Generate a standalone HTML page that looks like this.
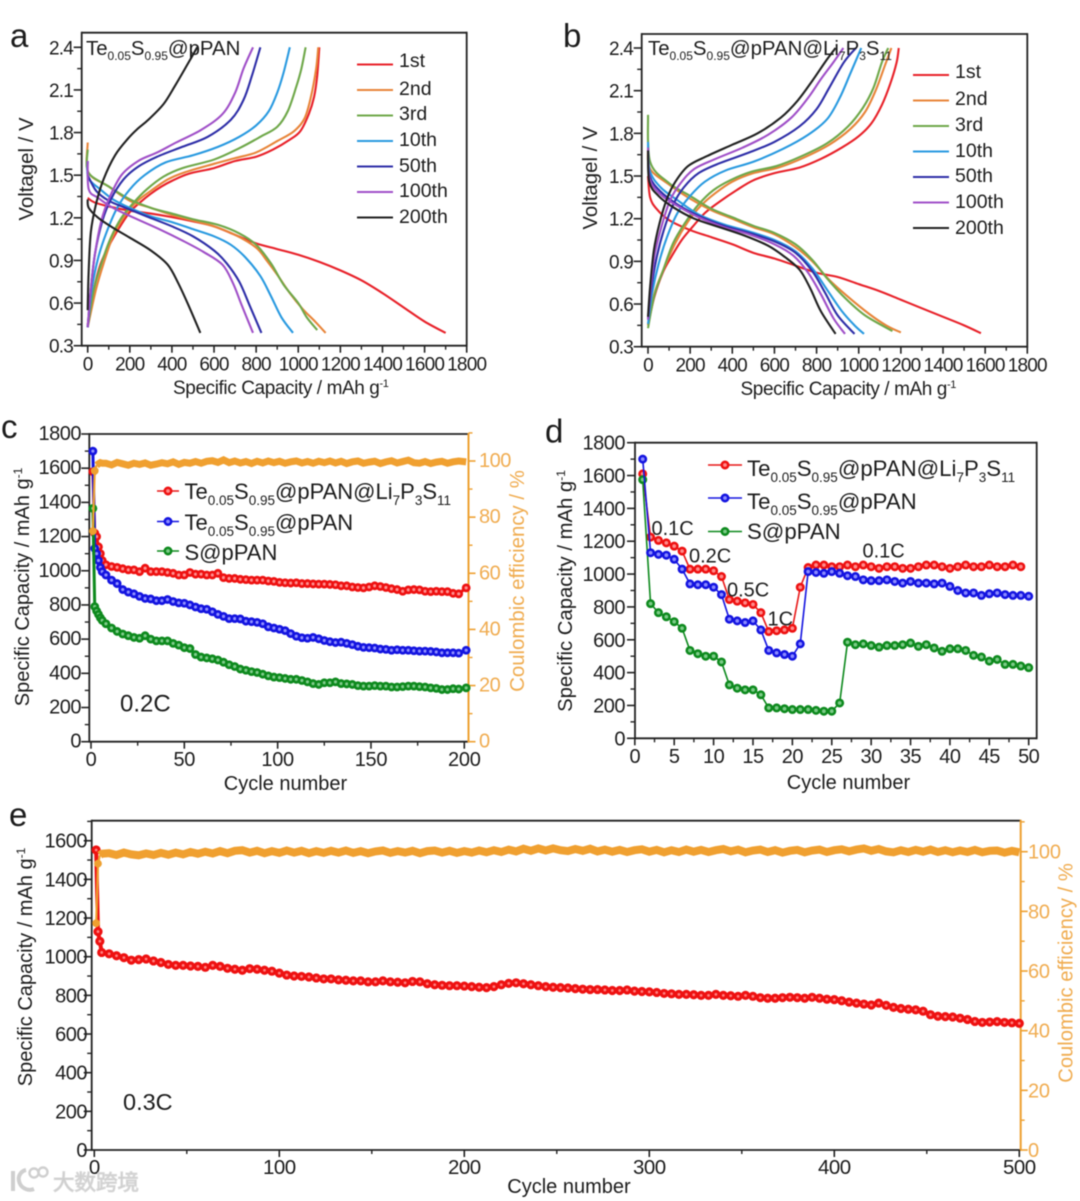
<!DOCTYPE html>
<html lang="en">
<head>
<meta charset="utf-8">
<title>Te0.05S0.95@pPAN battery performance</title>
<style>
html,body{margin:0;padding:0;background:#fff;}
svg{display:block;font-family:"Liberation Sans","Noto Sans CJK SC",sans-serif;fill:#1c1c1c;filter:blur(.45px);}
.letter{font-size:33px;}
.title{font-size:20.4px;}
.leg{font-size:19.5px;}
.orange{fill:#f0ac50;}
</style>
</head>
<body>
<svg id="figure" width="1080" height="1201" viewBox="0 0 1080 1201">
<rect width="1080" height="1201" fill="#fff"/>

<!-- Panel a -->
<g id="panel-a">
  <g id="marks-a"></g>
  <text class="letter" x="10" y="47">a</text>
  <text class="title" x="86" y="55">Te<tspan dy="5" font-size="12">0.05</tspan><tspan dy="-5">S</tspan><tspan dy="5" font-size="12">0.95</tspan><tspan dy="-5">@pPAN</tspan></text>
  <text class="title" transform="translate(33,169) rotate(-90)" text-anchor="middle">Voltagel / V</text>
  <text class="title" x="173" y="394" style="font-size:19px;letter-spacing:-.4px">Specific Capacity / mAh g<tspan dy="-7" font-size="11">-1</tspan></text>
  <g>
    <line x1="357" x2="393" y1="64.5" y2="64.5" stroke="#e8222a" stroke-width="2"/>
    <text class="leg" x="399" y="67">1st</text>
    <line x1="357" x2="393" y1="90" y2="90" stroke="#e8853a" stroke-width="2"/>
    <text class="leg" x="399" y="95">2nd</text>
    <line x1="357" x2="393" y1="115.5" y2="115.5" stroke="#6fa84a" stroke-width="2"/>
    <text class="leg" x="399" y="120">3rd</text>
    <line x1="357" x2="393" y1="141" y2="141" stroke="#2a9ae0" stroke-width="2"/>
    <text class="leg" x="399" y="146">10th</text>
    <line x1="357" x2="393" y1="166.5" y2="166.5" stroke="#2f2fa8" stroke-width="2"/>
    <text class="leg" x="399" y="172">50th</text>
    <line x1="357" x2="393" y1="192" y2="192" stroke="#a050c8" stroke-width="2"/>
    <text class="leg" x="399" y="197">100th</text>
    <line x1="357" x2="393" y1="217.5" y2="217.5" stroke="#222" stroke-width="2"/>
    <text class="leg" x="399" y="223">200th</text>
  </g>
</g>

<!-- Panel b -->
<g id="panel-b">
  <g id="marks-b"></g>
  <text class="letter" x="563" y="47">b</text>
  <text class="title" x="648" y="55">Te<tspan dy="5" font-size="12">0.05</tspan><tspan dy="-5">S</tspan><tspan dy="5" font-size="12">0.95</tspan><tspan dy="-5">@pPAN@Li</tspan><tspan dy="5" font-size="12">7</tspan><tspan dy="-5">P</tspan><tspan dy="5" font-size="12">3</tspan><tspan dy="-5">S</tspan><tspan dy="5" font-size="12">11</tspan></text>
  <text class="title" transform="translate(597,178) rotate(-90)" text-anchor="middle">Voltagel / V</text>
  <text class="title" x="740.5" y="395" style="font-size:19px;letter-spacing:-.4px">Specific Capacity / mAh g<tspan dy="-7" font-size="11">-1</tspan></text>
  <g>
    <line x1="913" x2="949" y1="75" y2="75" stroke="#e8222a" stroke-width="2"/>
    <text class="leg" x="955" y="78">1st</text>
    <line x1="913" x2="949" y1="100.5" y2="100.5" stroke="#e8853a" stroke-width="2"/>
    <text class="leg" x="955" y="105">2nd</text>
    <line x1="913" x2="949" y1="126" y2="126" stroke="#6fa84a" stroke-width="2"/>
    <text class="leg" x="955" y="131">3rd</text>
    <line x1="913" x2="949" y1="151.5" y2="151.5" stroke="#2a9ae0" stroke-width="2"/>
    <text class="leg" x="955" y="157">10th</text>
    <line x1="913" x2="949" y1="177" y2="177" stroke="#2f2fa8" stroke-width="2"/>
    <text class="leg" x="955" y="182">50th</text>
    <line x1="913" x2="949" y1="202.5" y2="202.5" stroke="#a050c8" stroke-width="2"/>
    <text class="leg" x="955" y="208">100th</text>
    <line x1="913" x2="949" y1="228" y2="228" stroke="#222" stroke-width="2"/>
    <text class="leg" x="955" y="234">200th</text>
  </g>
</g>

<!-- Panel c -->
<g id="panel-c">
  <g id="marks-c"></g>
  <text class="letter" x="1" y="438">c</text>
  <text transform="translate(29,587) rotate(-90)" text-anchor="middle" font-size="20">Specific Capacity / mAh g<tspan dy="-7" font-size="12">-1</tspan></text>
  <text class="orange" transform="translate(524,581) rotate(-90)" text-anchor="middle" font-size="20.4">Coulombic efficiency / %</text>
  <text x="285.5" y="790" text-anchor="middle" font-size="20">Cycle number</text>
  <text x="120" y="711.5" font-size="24">0.2C</text>
  <g font-size="22">
    <line x1="157" x2="179" y1="491" y2="491" stroke="#e81818" stroke-width="1.6"/>
    <circle cx="168" cy="491" r="3.2" fill="#ff8a8a" stroke="#ee1111" stroke-width="2.6"/>
    <text x="184.5" y="499">Te<tspan dy="6" font-size="13.5">0.05</tspan><tspan dy="-6">S</tspan><tspan dy="6" font-size="13.5">0.95</tspan><tspan dy="-6">@pPAN@Li</tspan><tspan dy="6" font-size="13.5">7</tspan><tspan dy="-6">P</tspan><tspan dy="6" font-size="13.5">3</tspan><tspan dy="-6">S</tspan><tspan dy="6" font-size="13.5">11</tspan></text>
    <line x1="157" x2="179" y1="521.5" y2="521.5" stroke="#1414e0" stroke-width="1.6"/>
    <circle cx="168" cy="521.5" r="3.2" fill="#8a8aff" stroke="#1414e0" stroke-width="2.6"/>
    <text x="184.5" y="530">Te<tspan dy="6" font-size="13.5">0.05</tspan><tspan dy="-6">S</tspan><tspan dy="6" font-size="13.5">0.95</tspan><tspan dy="-6">@pPAN</tspan></text>
    <line x1="157" x2="179" y1="551" y2="551" stroke="#0e8a1e" stroke-width="1.6"/>
    <circle cx="168" cy="551" r="3.2" fill="#7ccb88" stroke="#0e8a1e" stroke-width="2.6"/>
    <text x="184.5" y="560">S@pPAN</text>
  </g>
</g>

<!-- Panel d -->
<g id="panel-d">
  <g id="marks-d"></g>
  <text class="letter" x="545" y="442.5">d</text>
  <text transform="translate(572,591) rotate(-90)" text-anchor="middle" font-size="20.3">Specific Capacity / mAh g<tspan dy="-7" font-size="12">-1</tspan></text>
  <text x="848.5" y="789" text-anchor="middle" font-size="20">Cycle number</text>
  <g font-size="20">
    <text x="651.5" y="535">0.1C</text>
    <text x="689" y="562.5">0.2C</text>
    <text x="727" y="596.5">0.5C</text>
    <text x="767.5" y="625.5">1C</text>
    <text x="862.5" y="557.5">0.1C</text>
  </g>
  <g font-size="22.2">
    <line x1="708" x2="742" y1="465" y2="465" stroke="#e81818" stroke-width="1.6"/>
    <circle cx="725" cy="465" r="3.2" fill="#ff8a8a" stroke="#ee1111" stroke-width="2.6"/>
    <text x="747" y="476">Te<tspan dy="6" font-size="13.5">0.05</tspan><tspan dy="-6">S</tspan><tspan dy="6" font-size="13.5">0.95</tspan><tspan dy="-6">@pPAN@Li</tspan><tspan dy="6" font-size="13.5">7</tspan><tspan dy="-6">P</tspan><tspan dy="6" font-size="13.5">3</tspan><tspan dy="-6">S</tspan><tspan dy="6" font-size="13.5">11</tspan></text>
    <line x1="708" x2="742" y1="498" y2="498" stroke="#1414e0" stroke-width="1.6"/>
    <circle cx="725" cy="498" r="3.2" fill="#8a8aff" stroke="#1414e0" stroke-width="2.6"/>
    <text x="747" y="509">Te<tspan dy="6" font-size="13.5">0.05</tspan><tspan dy="-6">S</tspan><tspan dy="6" font-size="13.5">0.95</tspan><tspan dy="-6">@pPAN</tspan></text>
    <line x1="708" x2="742" y1="531.5" y2="531.5" stroke="#0e8a1e" stroke-width="1.6"/>
    <circle cx="725" cy="531.5" r="3.2" fill="#7ccb88" stroke="#0e8a1e" stroke-width="2.6"/>
    <text x="747" y="539">S@pPAN</text>
  </g>
</g>

<!-- Panel e -->
<g id="panel-e">
  <g id="marks-e"></g>
  <text class="letter" x="9" y="826">e</text>
  <text transform="translate(32,967) rotate(-90)" text-anchor="middle" font-size="20">Specific Capacity / mAh g<tspan dy="-7" font-size="12">-1</tspan></text>
  <text class="orange" transform="translate(1072.5,973) rotate(-90)" text-anchor="middle" font-size="20.2">Coulombic efficiency / %</text>
  <text x="569" y="1193" text-anchor="middle" font-size="20">Cycle number</text>
  <text x="123" y="1110" font-size="23.5">0.3C</text>
</g>

<!-- Watermark -->
<g>
  <path d="M13 1171 L13 1191" stroke="#cfcfcf" stroke-width="4" fill="none"/>
  <path d="M34 1189 A11 11 0 0 1 19 1181 A9 9 0 0 1 26 1170" stroke="#cfcfcf" stroke-width="4" fill="none"/>
  <circle cx="34" cy="1173" r="4.5" fill="none" stroke="#cfcfcf" stroke-width="2.4"/>
  <circle cx="43" cy="1172" r="4.5" fill="none" stroke="#cfcfcf" stroke-width="2.4"/>
  <text x="53" y="1190" font-size="21.5" style="fill:#c8c8c8;stroke:#d8d8d8;stroke-width:1px">大数跨境</text>
</g>
</svg>

<script>
/* ---------- Panel a: [capacity, voltage] readings ---------- */
const aDis1st=[[0,1.34],[30,1.31],[100,1.28],[200,1.25],[300,1.23],[400,1.205],[500,1.175],[600,1.14],[700,1.08],[800,1.02],[900,.98],[1000,.94],[1100,.89],[1200,.83],[1300,.76],[1400,.67],[1500,.57],[1600,.47],[1700,.39]];
const aChg1st=[[0,.45],[30,.7],[60,.87],[100,1.0],[150,1.13],[200,1.24],[250,1.31],[300,1.37],[350,1.42],[400,1.46],[480,1.51],[600,1.55],[700,1.6],[800,1.63],[880,1.68],[960,1.75],[1010,1.81],[1050,1.93],[1075,2.05],[1090,2.2],[1100,2.4]];
const aDis2nd=[[0,1.73],[3,1.52],[100,1.42],[200,1.32],[300,1.27],[400,1.22],[500,1.18],[600,1.14],[700,1.08],[800,.99],[850,.9],[900,.8],[960,.67],[1020,.56],[1080,.47],[1130,.39]];
const aChg2nd=[[0,.43],[40,.7],[80,.9],[120,1.07],[170,1.2],[230,1.31],[300,1.39],[380,1.47],[460,1.52],[600,1.58],[700,1.62],[800,1.66],[900,1.74],[980,1.81],[1030,1.9],[1060,2.05],[1085,2.25],[1095,2.4]];
const aDis3rd=[[0,1.68],[3,1.52],[100,1.42],[200,1.33],[300,1.27],[400,1.23],[500,1.19],[620,1.15],[720,1.09],[800,1.01],[870,.88],[930,.73],[1000,.6],[1040,.5],[1090,.41]];
const aChg3rd=[[0,.43],[30,.7],[70,.9],[110,1.06],[160,1.2],[220,1.31],[280,1.4],[360,1.49],[450,1.55],[600,1.61],[720,1.69],[820,1.77],[900,1.84],[950,1.95],[990,2.12],[1015,2.25],[1035,2.4]];
const aDis10th=[[0,1.6],[3,1.48],[60,1.4],[120,1.33],[200,1.27],[300,1.21],[400,1.17],[500,1.12],[600,1.07],[680,1.01],[750,.92],[820,.79],[870,.65],[920,.5],[975,.39]];
const aChg10th=[[0,.43],[20,.7],[50,.92],[90,1.1],[140,1.27],[200,1.4],[270,1.5],[370,1.59],[500,1.64],[620,1.7],[720,1.77],[800,1.85],[860,1.95],[900,2.08],[930,2.22],[960,2.4]];
const aDis50th=[[0,1.5],[40,1.39],[100,1.32],[180,1.27],[280,1.21],[400,1.14],[500,1.07],[600,.97],[660,.88],[720,.75],[770,.58],[825,.39]];
const aChg50th=[[0,.43],[15,.7],[35,.95],[70,1.18],[110,1.33],[170,1.47],[240,1.56],[330,1.63],[450,1.7],[570,1.77],[680,1.89],[740,2.03],[780,2.2],[820,2.4]];
const aDis100th=[[0,1.6],[5,1.4],[50,1.34],[120,1.27],[220,1.2],[340,1.12],[450,1.04],[550,.96],[640,.87],[690,.74],[730,.59],[785,.39]];
const aChg100th=[[0,.43],[15,.7],[35,.95],[65,1.18],[100,1.33],[160,1.5],[240,1.6],[330,1.66],[420,1.73],[540,1.82],[640,1.93],[700,2.08],[740,2.25],[785,2.4]];
const aDis200th=[[0,1.33],[5,1.27],[50,1.2],[120,1.13],[200,1.06],[300,.97],[380,.87],[430,.74],[480,.58],[535,.39]];
const aChg200th=[[0,.55],[4,.8],[15,1.1],[40,1.3],[75,1.47],[130,1.64],[193,1.76],[240,1.83],[288,1.89],[360,2.0],[415,2.13],[470,2.27],[520,2.4]];

/* ---------- Panel b: [capacity, voltage] readings ---------- */
const bDis1st=[[0,1.5],[10,1.35],[40,1.27],[100,1.19],[200,1.12],[300,1.07],[400,1.02],[500,.96],[600,.92],[700,.87],[800,.82],[900,.79],[1000,.74],[1100,.69],[1200,.63],[1300,.57],[1400,.51],[1500,.45],[1580,.395]];
const bChg1st=[[0,.45],[30,.65],[70,.82],[110,.93],[160,1.05],[210,1.14],[270,1.24],[340,1.32],[420,1.4],[500,1.47],[600,1.52],[720,1.56],[820,1.62],[920,1.7],[1000,1.78],[1060,1.87],[1110,2.0],[1150,2.15],[1180,2.3],[1190,2.4]];
const bDis2nd=[[0,1.7],[10,1.55],[100,1.44],[200,1.34],[300,1.26],[400,1.2],[500,1.14],[600,1.09],[700,1.0],[780,.9],[860,.77],[950,.65],[1050,.53],[1130,.45],[1200,.4]];
const bChg2nd=[[0,.45],[30,.67],[70,.83],[130,1.03],[190,1.18],[250,1.29],[320,1.38],[400,1.46],[500,1.52],[620,1.56],[740,1.63],[860,1.72],[960,1.83],[1030,1.95],[1080,2.1],[1125,2.28],[1155,2.4]];
const bDis3rd=[[0,1.93],[10,1.6],[100,1.45],[200,1.36],[300,1.27],[400,1.21],[500,1.15],[600,1.1],[700,1.02],[780,.91],[850,.78],[930,.65],[1030,.52],[1160,.41]];
const bChg3rd=[[0,.43],[30,.66],[70,.83],[120,1.03],[180,1.18],[240,1.3],[310,1.4],[390,1.47],[490,1.53],[610,1.57],[730,1.64],[850,1.73],[950,1.85],[1020,1.98],[1070,2.12],[1110,2.3],[1140,2.4]];
const bDis10th=[[0,1.74],[8,1.54],[60,1.42],[140,1.33],[240,1.23],[360,1.16],[480,1.11],[600,1.05],[700,.97],[780,.85],[850,.7],[920,.55],[980,.45],[1025,.39]];
const bChg10th=[[0,.46],[20,.68],[50,.88],[90,1.07],[140,1.24],[200,1.36],[270,1.46],[370,1.54],[500,1.6],[640,1.69],[760,1.79],[850,1.9],[910,2.05],[960,2.22],[1012,2.4]];
const bDis50th=[[0,1.68],[8,1.5],[60,1.39],[140,1.3],[240,1.22],[360,1.15],[480,1.1],[600,1.04],[700,.96],[780,.83],[840,.68],[900,.52],[980,.39]];
const bChg50th=[[0,.49],[15,.7],[40,.92],[75,1.12],[120,1.3],[170,1.42],[240,1.52],[340,1.59],[470,1.66],[600,1.74],[720,1.85],[800,1.97],[860,2.12],[930,2.3],[987,2.4]];
const bDis100th=[[0,1.7],[8,1.48],[60,1.37],[140,1.29],[240,1.21],[360,1.14],[480,1.09],[600,1.02],[690,.94],[760,.82],[820,.67],[880,.5],[935,.39]];
const bChg100th=[[0,.49],[12,.7],[32,.95],[65,1.15],[105,1.33],[155,1.45],[220,1.55],[320,1.62],[450,1.7],[570,1.79],[680,1.91],[760,2.05],[820,2.18],[880,2.3],[927,2.4]];
const bDis200th=[[0,1.68],[6,1.46],[50,1.36],[120,1.28],[220,1.2],[340,1.14],[460,1.08],[570,1.01],[650,.93],[720,.84],[770,.71],[820,.55],[890,.39]];
const bChg200th=[[0,.51],[10,.72],[28,.98],[55,1.17],[90,1.34],[130,1.46],[190,1.57],[280,1.64],[400,1.72],[520,1.8],[630,1.91],[710,2.03],[780,2.17],[840,2.3],[890,2.4]];

/* ---------- Panel c: cycling at 0.2C ---------- */
const cCycles=[1,2,3,4,5,6,
8,11,14,17,20,23,26,29,32,35,
38,41,44,47,50,53,56,59,62,65,
68,71,74,77,80,83,86,89,92,95,
98,101,104,107,110,113,116,119,122,125,
128,131,134,137,140,143,146,149,152,155,
158,161,164,167,170,173,176,179,182,185,
188,191,194,197,201];
const cRed=[1580,1220,1200,1140,1100,1060,
1035,1025,1020,1012,1005,1005,995,1015,995,995,
995,990,985,975,975,990,980,980,975,975,
985,960,955,955,950,948,945,945,945,940,
938,932,930,928,930,925,925,923,922,922,
920,918,912,912,905,902,900,905,912,908,
902,895,890,880,888,890,888,880,878,880,
878,878,868,865,900];
const cBlue=[1700,1130,1100,1060,1020,995,
975,945,925,890,875,865,850,838,835,825,
825,832,820,812,810,800,788,778,775,760,
745,733,720,720,718,705,702,698,690,672,
665,658,650,632,617,608,605,610,602,592,
585,580,582,575,568,558,552,550,548,542,
540,535,538,535,535,532,530,530,528,525,
520,520,520,518,535];
const cGreen=[1365,790,765,745,725,710,
690,665,645,630,620,610,605,620,600,590,
590,590,575,565,550,545,510,495,490,485,
478,465,450,440,425,418,410,405,395,385,
378,375,370,365,365,358,350,340,335,345,
345,350,340,338,335,328,325,325,328,325,
325,320,320,322,325,325,322,320,315,312,
305,305,310,308,315];
const cEfficiency=[75,96.5,98.5,99,99.4,99.2,
99.2,98.6,99.5,99.0,98.5,99.2,98.8,99.3,98.5,98.9,
99.4,99.0,99.7,98.8,99.5,99.2,99.8,99.2,99.9,100.1,
99.5,100.4,99.4,100.0,99.3,99.8,99.1,99.9,99.3,100.0,
99.4,99.9,99.2,99.7,100.0,99.3,99.8,99.2,99.9,99.4,
100.0,99.3,99.9,99.1,99.7,100.0,99.2,99.6,99.9,99.1,
99.7,100.1,99.3,99.8,100.3,99.4,99.2,99.8,99.1,99.6,
99.9,99.2,99.7,100.0,99.7];

/* ---------- Panel d: rate capability ---------- */
const dCycles=[1,2,3,4,5,6,7,8,9,10,11,12,13,14,15,16,17,18,19,20,21,22,23,24,25,26,27,28,29,30,31,32,33,34,35,36,37,38,39,40,41,42,43,44,45,46,47,48,49,50];
const dRed=[1610,1225,1205,1190,1170,1140,1030,1030,1030,1020,985,845,835,825,815,765,650,655,660,670,920,1040,1055,1055,1045,1045,1055,1045,1055,1045,1035,1045,1045,1035,1035,1045,1055,1055,1045,1035,1045,1055,1045,1045,1055,1045,1045,1055,1045];
const dBlue=[1700,1130,1120,1115,1090,1030,940,935,935,920,875,725,715,705,715,660,535,520,510,500,575,1015,1010,1005,1015,1005,990,985,965,960,960,965,955,945,955,945,945,940,945,925,900,885,885,870,880,885,875,870,870,865];
const dGreen=[1575,820,765,740,710,670,535,515,500,500,465,325,305,295,295,265,185,185,180,175,175,175,170,165,165,215,585,570,575,565,555,565,565,570,580,560,570,550,530,545,545,535,505,495,470,480,450,450,440,430];

/* ---------- Panel e: long cycling at 0.3C ---------- */
const eCycles=[1,2,3,4,
8,12,16,20,24,28,32,36,40,44,
48,52,56,60,64,68,72,76,80,84,
88,92,96,100,104,108,112,116,120,124,
128,132,136,140,144,148,152,156,160,164,
168,172,176,180,184,188,192,196,200,204,
208,212,216,220,224,228,232,236,240,244,
248,252,256,260,264,268,272,276,280,284,
288,292,296,300,304,308,312,316,320,324,
328,332,336,340,344,348,352,356,360,364,
368,372,376,380,384,388,392,396,400,404,
408,412,416,420,424,428,432,436,440,444,
448,452,456,460,464,468,472,476,480,484,
488,492,496,500];
const eRed=[1552,1130,1080,1022,
1015,1005,995,982,985,988,978,970,960,955,
955,952,950,945,955,950,940,935,930,938,
935,930,925,915,905,900,898,895,890,885,
885,880,878,875,875,870,870,875,870,868,
865,872,870,860,855,852,850,850,848,845,
842,840,845,855,862,865,860,855,850,845,
842,840,838,835,832,830,830,828,825,825,
828,822,820,818,815,810,808,805,805,803,
800,800,805,800,798,795,800,795,788,785,
785,788,790,788,785,790,785,780,778,772,
765,760,755,750,760,748,738,732,728,725,
718,700,692,690,688,682,675,665,660,662,
664,660,658,655];
const eEfficiency=[76,96,98.8,99.3,
99.5,98.9,99.7,99.1,98.8,99.4,98.9,99.6,99.0,99.7,
99.1,99.9,99.3,100.0,99.4,100.2,99.5,100.3,100.5,99.7,
100.3,99.5,100.2,99.6,100.4,99.7,100.3,99.5,100.2,99.6,
100.3,99.7,100.4,99.6,100.2,99.5,100.1,100.4,99.6,100.2,
99.7,100.3,99.5,100.2,100.4,99.7,100.3,99.6,100.2,99.7,
100.4,99.8,100.5,99.9,100.7,100.1,101.0,100.3,101.1,100.4,
101.1,100.5,100.2,100.9,100.3,101.0,100.1,100.7,100.0,100.6,
99.9,100.5,100.8,100.0,100.6,99.8,100.5,99.9,100.7,100.0,
100.6,99.9,100.5,100.9,100.1,100.7,99.8,100.4,100.7,99.9,
100.5,99.7,100.3,100.6,99.8,100.4,100.7,99.9,100.5,100.8,
100.1,100.7,101.1,100.3,100.9,100.1,99.8,100.5,99.9,100.6,
100.0,100.7,99.9,100.5,99.8,100.4,99.9,100.6,99.8,100.3,
100.4,99.7,100.3,99.8];

/* ---------- Axis ticks and labels ---------- */
const abXTickLabels=['0','200','400','600','800','1000','1200','1400','1600','1800'];
const abXMinorTicks=[100,300,500,700,900,1100,1300,1500,1700];
const abYTickLabels=['0.3','0.6','0.9','1.2','1.5','1.8','2.1','2.4'];
const abYMinorTicks=[0.45,0.75,1.05,1.35,1.65,1.95,2.25];
const cXTickLabels=['0','50','100','150','200'];
const cXMinorTicks=[25,75,125,175];
const capTickLabels=['0','200','400','600','800','1000','1200','1400','1600','1800'];
const capMinorTicks=[100,300,500,700,900,1100,1300,1500,1700];
const effTickLabels=['0','20','40','60','80','100'];
const effMinorTicks=[10,30,50,70,90,110];
const dXTickLabels=['0','5','10','15','20','25','30','35','40','45','50'];
const dXMinorTicks=[2.5,7.5,12.5,17.5,22.5,27.5,32.5,37.5,42.5,47.5];
const eXTickLabels=['0','100','200','300','400','500'];
const eXMinorTicks=[50,150,250,350,450];
const eYTickLabels=['0','200','400','600','800','1000','1200','1400','1600'];
const eYMinorTicks=[100,300,500,700,900,1100,1300,1500,1700];

/* ---------- Helpers ---------- */
const SVG_NS=document.getElementById('figure').namespaceURI;
const INK='#222';
const ORANGE_AXIS='#eea030';
const ORANGE_LABEL='#f0ac50';

function linear(d0,d1,p0,p1){return v=>p0+(v-d0)*(p1-p0)/(d1-d0);}

function addLine(parent,x1,y1,x2,y2,color,width,name){
  const el=document.createElementNS(SVG_NS,'line');
  el.setAttribute('x1',x1);el.setAttribute('y1',y1);el.setAttribute('x2',x2);el.setAttribute('y2',y2);
  el.setAttribute('stroke',color);el.setAttribute('stroke-width',width);
  
  
  parent.appendChild(el);
}
function addLabel(parent,x,y,text,anchor,size,spacing,color,name){
  const el=document.createElementNS(SVG_NS,'text');
  el.setAttribute('x',x);el.setAttribute('y',y);el.setAttribute('text-anchor',anchor);
  el.setAttribute('font-size',size);
  el.style.letterSpacing=spacing+'px';
  el.style.fill=color;
  el.textContent=text;
  
  
  parent.appendChild(el);
}
function drawFrame(g,b,rightColor){
  addLine(g,b.l,b.t,b.r,b.t,INK,1.8,'top-border');
  addLine(g,b.l,b.b,b.r,b.b,INK,1.8,'x-axis');
  addLine(g,b.l,b.t-.9,b.l,b.b+.9,INK,1.8,'y-axis');
  addLine(g,b.r,b.t-.9,b.r,b.b+.9,rightColor,rightColor===INK?1.8:2,rightColor===INK?'right-border':'right-y-axis');
}
function drawXAxis(g,b,xs,labels,minors,o){
  labels.forEach(t=>{
    const v=parseFloat(t),x=xs(v);
    addLine(g,x,b.b,x,b.b+7,INK,1.6,'x-tick');
    addLabel(g,x,o.y,t,'middle',o.size,o.ls,'#1c1c1c','x-tick-label');
  });
  minors.forEach(v=>addLine(g,xs(v),b.b,xs(v),b.b+4,INK,1.4,'x-minor-tick'));
}
function drawYAxis(g,b,ys,labels,minors,o){
  labels.forEach(t=>{
    const v=parseFloat(t),y=ys(v);
    addLine(g,b.l-8,y,b.l,y,INK,1.6,'y-tick');
    addLabel(g,o.end,y+o.dy,t,'end',o.size,o.ls,'#1c1c1c','y-tick-label');
  });
  minors.forEach(v=>addLine(g,b.l-4.5,ys(v),b.l,ys(v),INK,1.4,'y-minor-tick'));
}
function drawRightAxis(g,b,ys,labels,minors,o){
  labels.forEach(t=>{
    const v=parseFloat(t),y=ys(v);
    addLine(g,b.r,y,b.r+7,y,ORANGE_AXIS,1.6,'right-y-tick');
    addLabel(g,o.start,y+o.dy,t,'start',o.size,o.ls,ORANGE_LABEL,'right-y-tick-label');
  });
  minors.forEach(v=>addLine(g,b.r,ys(v),b.r+4,ys(v),ORANGE_AXIS,1.4,'right-y-minor-tick'));
}
function smoothPath(pts){
  let d='M'+pts[0][0].toFixed(2)+' '+pts[0][1].toFixed(2);
  for(let i=0;i<pts.length-1;i++){
    const p0=pts[Math.max(0,i-1)],p1=pts[i],p2=pts[i+1],p3=pts[Math.min(pts.length-1,i+2)];
    const c1x=p1[0]+(p2[0]-p0[0])/6,c1y=p1[1]+(p2[1]-p0[1])/6,c2x=p2[0]-(p3[0]-p1[0])/6,c2y=p2[1]-(p3[1]-p1[1])/6;
    d+='C'+c1x.toFixed(2)+' '+c1y.toFixed(2)+' '+c2x.toFixed(2)+' '+c2y.toFixed(2)+' '+p2[0].toFixed(2)+' '+p2[1].toFixed(2);
  }
  return d;
}
function drawCurve(g,xs,ys,data,color,name){
  const el=document.createElementNS(SVG_NS,'path');
  el.setAttribute('d',smoothPath(data.map(p=>[xs(p[0]),ys(p[1])])));
  el.setAttribute('fill','none');el.setAttribute('stroke',color);el.setAttribute('stroke-width','2.1');
  el.setAttribute('stroke-linejoin','round');
  
  
  g.appendChild(el);
}
function drawPolyline(g,xs,ys,cycles,values,color,width,join,name){
  const el=document.createElementNS(SVG_NS,'polyline');
  el.setAttribute('points',values.map((v,i)=>xs(cycles[i]).toFixed(2)+','+ys(v).toFixed(2)).join(' '));
  el.setAttribute('fill','none');el.setAttribute('stroke',color);el.setAttribute('stroke-width',width);
  el.setAttribute('stroke-linejoin',join);
  
  
  g.appendChild(el);
}
function drawPoints(g,xs,ys,cycles,values,fill,stroke,r,sw,name){
  values.forEach((v,i)=>{
    const el=document.createElementNS(SVG_NS,'circle');
    el.setAttribute('cx',xs(cycles[i]).toFixed(2));el.setAttribute('cy',ys(v).toFixed(2));
    el.setAttribute('r',r);el.setAttribute('fill',fill);el.setAttribute('stroke',stroke);el.setAttribute('stroke-width',sw);
    
    
    g.appendChild(el);
  });
}

/* ---------- Panel a ---------- */
(function(){
  const g=document.getElementById('marks-a'),b={l:81.7,r:466.7,t:32.7,b:345.7};
  const xs=linear(0,1800,87.7,466.7),ys=linear(.3,2.4,345.7,47.3);
  drawFrame(g,b,INK);
  drawXAxis(g,b,xs,abXTickLabels,abXMinorTicks,{y:370.5,size:19,ls:-.8});
  drawYAxis(g,b,ys,abYTickLabels,abYMinorTicks,{end:73,size:19,ls:-.8,dy:7});
  drawCurve(g,xs,ys,aDis1st,'#e8222a','discharge-1st');
  drawCurve(g,xs,ys,aChg1st,'#e8222a','charge-1st');
  drawCurve(g,xs,ys,aDis2nd,'#e8853a','discharge-2nd');
  drawCurve(g,xs,ys,aChg2nd,'#e8853a','charge-2nd');
  drawCurve(g,xs,ys,aDis3rd,'#6fa84a','discharge-3rd');
  drawCurve(g,xs,ys,aChg3rd,'#6fa84a','charge-3rd');
  drawCurve(g,xs,ys,aDis10th,'#2a9ae0','discharge-10th');
  drawCurve(g,xs,ys,aChg10th,'#2a9ae0','charge-10th');
  drawCurve(g,xs,ys,aDis50th,'#2f2fa8','discharge-50th');
  drawCurve(g,xs,ys,aChg50th,'#2f2fa8','charge-50th');
  drawCurve(g,xs,ys,aDis100th,'#a050c8','discharge-100th');
  drawCurve(g,xs,ys,aChg100th,'#a050c8','charge-100th');
  drawCurve(g,xs,ys,aDis200th,'#222','discharge-200th');
  drawCurve(g,xs,ys,aChg200th,'#222','charge-200th');
})();

/* ---------- Panel b ---------- */
(function(){
  const g=document.getElementById('marks-b'),b={l:641.7,r:1027.3,t:34,b:346.7};
  const xs=linear(0,1800,648,1027.3),ys=linear(.3,2.4,346.7,48);
  drawFrame(g,b,INK);
  drawXAxis(g,b,xs,abXTickLabels,abXMinorTicks,{y:371.5,size:19,ls:-.8});
  drawYAxis(g,b,ys,abYTickLabels,abYMinorTicks,{end:633,size:19,ls:-.8,dy:7});
  drawCurve(g,xs,ys,bDis1st,'#e8222a','discharge-1st');
  drawCurve(g,xs,ys,bChg1st,'#e8222a','charge-1st');
  drawCurve(g,xs,ys,bDis2nd,'#e8853a','discharge-2nd');
  drawCurve(g,xs,ys,bChg2nd,'#e8853a','charge-2nd');
  drawCurve(g,xs,ys,bDis3rd,'#6fa84a','discharge-3rd');
  drawCurve(g,xs,ys,bChg3rd,'#6fa84a','charge-3rd');
  drawCurve(g,xs,ys,bDis10th,'#2a9ae0','discharge-10th');
  drawCurve(g,xs,ys,bChg10th,'#2a9ae0','charge-10th');
  drawCurve(g,xs,ys,bDis50th,'#2f2fa8','discharge-50th');
  drawCurve(g,xs,ys,bChg50th,'#2f2fa8','charge-50th');
  drawCurve(g,xs,ys,bDis100th,'#a050c8','discharge-100th');
  drawCurve(g,xs,ys,bChg100th,'#a050c8','charge-100th');
  drawCurve(g,xs,ys,bDis200th,'#222','discharge-200th');
  drawCurve(g,xs,ys,bChg200th,'#222','charge-200th');
})();

/* ---------- Panel c ---------- */
(function(){
  const g=document.getElementById('marks-c'),b={l:89.3,r:468.5,t:434,b:741.7};
  const xs=linear(0,200,91,464.3),ys=linear(0,1800,741.7,434),yr=linear(0,100,741.7,461);
  drawFrame(g,b,ORANGE_AXIS);
  drawXAxis(g,b,xs,cXTickLabels,cXMinorTicks,{y:766,size:20,ls:-.3});
  drawYAxis(g,b,ys,capTickLabels,capMinorTicks,{end:81,size:20,ls:-.5,dy:6});
  drawRightAxis(g,b,yr,effTickLabels,effMinorTicks,{start:479,size:20,ls:-.5,dy:6});
  drawPolyline(g,xs,ys,cCycles,cRed,'#ee1111',3,'round','capacity-line-li7p3s11');
  drawPoints(g,xs,ys,cCycles,cRed,'#ff9090','#ee1111',3,2.8,'capacity-point-li7p3s11');
  drawPolyline(g,xs,ys,cCycles,cBlue,'#1414e0',3,'round','capacity-line-te-s-ppan');
  drawPoints(g,xs,ys,cCycles,cBlue,'#9090ff','#1414e0',3,2.8,'capacity-point-te-s-ppan');
  drawPolyline(g,xs,ys,cCycles,cGreen,'#0e8a1e',3,'round','capacity-line-s-ppan');
  drawPoints(g,xs,ys,cCycles,cGreen,'#80cc8c','#0e8a1e',3,2.8,'capacity-point-s-ppan');
  drawPolyline(g,xs,yr,cCycles.slice(0,3),cEfficiency.slice(0,3),'#eea030',2.2,'round','efficiency-rise-line');
  drawPolyline(g,xs,yr,cCycles.slice(2),cEfficiency.slice(2),'#f0a030',7,'miter','efficiency-line');
  drawPoints(g,xs,yr,cCycles.slice(0,2),cEfficiency.slice(0,2),'#eea030','#eea030',3.4,1,'efficiency-point');
})();

/* ---------- Panel d ---------- */
(function(){
  const g=document.getElementById('marks-d'),b={l:635,r:1036.7,t:442.7,b:738.3};
  const xs=linear(1,50,642.7,1028.7),ys=linear(0,1800,738.3,442.7);
  drawFrame(g,b,INK);
  drawXAxis(g,b,xs,dXTickLabels,dXMinorTicks,{y:763,size:20,ls:-.5});
  drawYAxis(g,b,ys,capTickLabels,capMinorTicks,{end:625,size:20,ls:-.5,dy:7});
  drawPolyline(g,xs,ys,dCycles,dRed,'#e81818',1.6,'round','capacity-line-li7p3s11');
  drawPoints(g,xs,ys,dCycles,dRed,'#ff8a8a','#ee1111',3.2,2.6,'capacity-point-li7p3s11');
  drawPolyline(g,xs,ys,dCycles,dGreen,'#0e8a1e',1.6,'round','capacity-line-s-ppan');
  drawPoints(g,xs,ys,dCycles,dGreen,'#7ccb88','#0e8a1e',3.2,2.6,'capacity-point-s-ppan');
  drawPolyline(g,xs,ys,dCycles,dBlue,'#1414e0',1.6,'round','capacity-line-te-s-ppan');
  drawPoints(g,xs,ys,dCycles,dBlue,'#8a8aff','#1414e0',3.2,2.6,'capacity-point-te-s-ppan');
})();

/* ---------- Panel e ---------- */
(function(){
  const g=document.getElementById('marks-e'),b={l:91.7,r:1020.7,t:820.7,b:1150};
  const xs=linear(0,500,94.3,1019.3),ys=linear(0,1000,1150,956.7),yr=linear(0,100,1150,851.7);
  drawFrame(g,b,ORANGE_AXIS);
  drawXAxis(g,b,xs,eXTickLabels,eXMinorTicks,{y:1174,size:20.5,ls:-.5});
  drawYAxis(g,b,ys,eYTickLabels,eYMinorTicks,{end:87,size:20,ls:-.5,dy:7});
  drawRightAxis(g,b,yr,effTickLabels,effMinorTicks,{start:1028,size:20,ls:-.2,dy:7});
  drawPolyline(g,xs,ys,eCycles,eRed,'#ee1111',4,'round','capacity-line');
  drawPoints(g,xs,ys,eCycles,eRed,'#ff8080','#ee1111',3,3.2,'capacity-point');
  drawPolyline(g,xs,yr,eCycles.slice(0,3),eEfficiency.slice(0,3),'#eea030',2.2,'round','efficiency-rise-line');
  drawPolyline(g,xs,yr,eCycles.slice(2),eEfficiency.slice(2),'#f0a030',8,'miter','efficiency-line');
  drawPoints(g,xs,yr,eCycles.slice(0,2),eEfficiency.slice(0,2),'#eea030','#eea030',3.4,1,'efficiency-point');
})();
</script>
</body>
</html>
